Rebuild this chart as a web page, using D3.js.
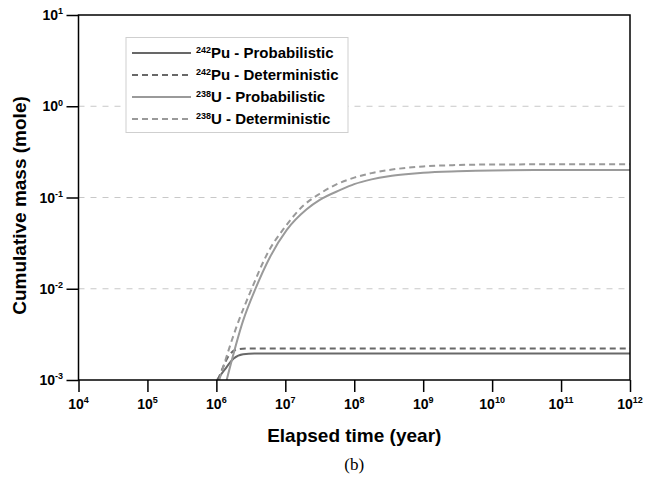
<!DOCTYPE html>
<html>
<head>
<meta charset="utf-8">
<script src="https://cdn.jsdelivr.net/npm/d3@7"></script>
<style>
  body { margin: 0; background: #fff; }
  text { font-family: "Liberation Sans", Arial, sans-serif; }
</style>
</head>
<body>
<div id="chart"></div>
<script>
// values (time in years, mass in mole)
var puProbTime = [1.02e6, 1.32e6, 1.78e6, 2.45e6, 3.55e6, 1e12];
var puProbMass = [0.001, 0.0013, 0.00172, 0.00192, 0.00195, 0.00195];

var puDetTime = [1.05e6, 1.26e6, 1.48e6, 2.0e6, 2.8e6, 1e12];
var puDetMass = [0.001, 0.0014, 0.0018, 0.00216, 0.00222, 0.00222];

var uProbTime = [1.41e6, 2.45e6, 3.63e6, 6.03e6, 1.05e7, 2.04e7, 3.16e7, 6.3e7, 1e8, 1.78e8, 3.16e8, 5.6e8, 1e9, 3.16e9, 1e10, 1e11, 1e12];
var uProbMass = [0.001, 0.0045, 0.0097, 0.0224, 0.0441, 0.0742, 0.094, 0.121, 0.140, 0.158, 0.171, 0.180, 0.187, 0.194, 0.198, 0.2, 0.2];

var uDetTime = [1.1e6, 2.0e6, 3.16e6, 5.6e6, 1e7, 1.78e7, 3.16e7, 5.6e7, 1e8, 1.78e8, 3.16e8, 5.6e8, 1e9, 3.16e9, 1e10, 1e11, 1e12];
var uDetMass = [0.001, 0.004, 0.0095, 0.025, 0.048, 0.08, 0.11, 0.14, 0.165, 0.185, 0.2, 0.211, 0.219, 0.227, 0.23, 0.231, 0.231];

var xTicks = [1e4, 1e5, 1e6, 1e7, 1e8, 1e9, 1e10, 1e11, 1e12];
var yTicks = [1e-3, 1e-2, 1e-1, 1e0, 1e1];
var gridTicks = [1e-2, 1e-1, 1e0];

var legendNames = [
  { iso: '242', el: 'Pu - Probabilistic' },
  { iso: '242', el: 'Pu - Deterministic' },
  { iso: '238', el: 'U - Probabilistic' },
  { iso: '238', el: 'U - Deterministic' }
];

var zip = function (ts, ms) {
  return ts.map(function (t, i) { return [t, ms[i]]; });
};

var series = [
  { pts: zip(puProbTime, puProbMass), color: '#686868', dash: null },
  { pts: zip(puDetTime, puDetMass), color: '#686868', dash: '6,4' },
  { pts: zip(uProbTime, uProbMass), color: '#9a9a9a', dash: null },
  { pts: zip(uDetTime, uDetMass), color: '#9a9a9a', dash: '6,4' }
];

var W = 650, H = 480;
var plotL = 78.5, plotR = 630, plotT = 15, plotB = 380;

var svg = d3.select('#chart').append('svg')
  .attr('width', W)
  .attr('height', H);

var x = d3.scaleLog().domain([1e4, 1e12]).range([plotL, plotR]);
var y = d3.scaleLog().domain([1e-3, 1e1]).range([plotB, plotT]);

svg.append('clipPath').attr('id', 'plot')
  .append('rect')
  .attr('x', plotL).attr('y', plotT)
  .attr('width', plotR - plotL).attr('height', plotB - plotT);

// grid
svg.selectAll('.grid')
  .data(gridTicks)
  .enter()
  .append('line')
  .attr('x1', plotL).attr('x2', plotR)
  .attr('y1', function (d) { return y(d); })
  .attr('y2', function (d) { return y(d); })
  .style('stroke', '#c8c8c8')
  .style('stroke-width', 1)
  .style('stroke-dasharray', '6,6');

// curves
var line = d3.line()
  .x(function (d) { return x(d[0]); })
  .y(function (d) { return y(d[1]); })
  .curve(d3.curveMonotoneX);

svg.append('g').attr('clip-path', 'url(#plot)')
  .selectAll('path')
  .data(series)
  .enter()
  .append('path')
  .attr('d', function (d) { return line(d.pts); })
  .style('fill', 'none')
  .style('stroke', function (d) { return d.color; })
  .style('stroke-width', 2)
  .style('stroke-dasharray', function (d) { return d.dash; });

// frame
svg.append('rect')
  .attr('x', plotL).attr('y', plotT)
  .attr('width', plotR - plotL).attr('height', plotB - plotT)
  .style('fill', 'none')
  .style('stroke', '#000')
  .style('stroke-width', 1.5);

// axes
var sup = function (sel, base, exp, bigSize, smallSize) {
  sel.text(null);
  sel.append('tspan').text(base).style('font-size', bigSize + 'px');
  sel.append('tspan').attr('dy', -bigSize * 0.4).text(exp).style('font-size', smallSize + 'px');
};

var xAxis = svg.append('g')
  .attr('transform', 'translate(0,' + plotB + ')')
  .call(d3.axisBottom(x).tickValues(xTicks).tickSize(12).tickFormat(''));
xAxis.select('.domain').remove();
xAxis.selectAll('line').style('stroke', '#000').style('stroke-width', 1.5);

svg.selectAll('.xlab')
  .data(xTicks)
  .enter()
  .append('text')
  .attr('x', function (d) { return x(d); })
  .attr('y', 409)
  .attr('text-anchor', 'middle')
  .style('font-weight', 'bold')
  .each(function (d) {
    sup(d3.select(this), '10', Math.round(Math.log10(d)), 14, 9);
  });

var yAxis = svg.append('g')
  .attr('transform', 'translate(' + plotL + ',0)')
  .call(d3.axisLeft(y).tickValues(yTicks).tickSize(12).tickFormat(''));
yAxis.select('.domain').remove();
yAxis.selectAll('line').style('stroke', '#000').style('stroke-width', 1.5);

svg.selectAll('.ylab')
  .data(yTicks)
  .enter()
  .append('text')
  .attr('x', 63)
  .attr('y', function (d) { return y(d) + 5; })
  .attr('text-anchor', 'end')
  .style('font-weight', 'bold')
  .each(function (d) {
    sup(d3.select(this), '10', Math.round(Math.log10(d)), 14, 9);
  });

// titles
svg.append('text')
  .attr('x', (plotL + plotR) / 2)
  .attr('y', 442)
  .attr('text-anchor', 'middle')
  .style('font-weight', 'bold')
  .style('font-size', '19px')
  .text('Elapsed time (year)');

svg.append('text')
  .attr('transform', 'translate(26,' + ((plotT + plotB) / 2 + 8) + ') rotate(-90)')
  .attr('text-anchor', 'middle')
  .style('font-weight', 'bold')
  .style('font-size', '19px')
  .text('Cumulative mass (mole)');

svg.append('text')
  .attr('x', (plotL + plotR) / 2)
  .attr('y', 470)
  .attr('text-anchor', 'middle')
  .style('font-family', '"Liberation Serif", "Times New Roman", serif')
  .style('font-size', '17px')
  .text('(b)');

// legend
var legend = svg.append('g');
legend.append('rect')
  .attr('x', 126).attr('y', 37.5)
  .attr('width', 222).attr('height', 95)
  .style('fill', '#fff')
  .style('stroke', '#cfcfcf')
  .style('stroke-width', 1);

var rowY = [53, 75, 97, 119];
var items = legend.selectAll('.item')
  .data(series)
  .enter()
  .append('g')
  .attr('transform', function (d, i) { return 'translate(0,' + rowY[i] + ')'; });

items.append('line')
  .attr('x1', 132).attr('x2', 191)
  .attr('y1', 0).attr('y2', 0)
  .style('stroke', function (d) { return d.color; })
  .style('stroke-width', 2)
  .style('stroke-dasharray', function (d) { return d.dash; });

items.append('text')
  .attr('x', 196)
  .attr('y', 5)
  .style('font-weight', 'bold')
  .each(function (d, i) {
    var t = d3.select(this);
    t.append('tspan').attr('dy', -5).style('font-size', '9px').text(legendNames[i].iso);
    t.append('tspan').attr('dy', 5).style('font-size', '15px').text(legendNames[i].el);
  });
</script>
</body>
</html>
